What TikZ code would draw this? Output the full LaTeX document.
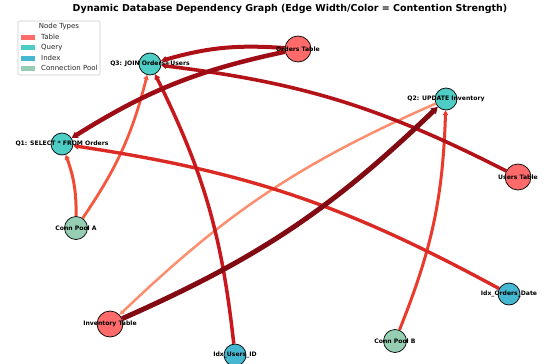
\documentclass[tikz,border=0pt]{standalone}
\usepackage{fontspec}
\setmainfont{DejaVu Sans}
\usetikzlibrary{arrows.meta}
\definecolor{ctable}{HTML}{FF6B6B}
\definecolor{cquery}{HTML}{4ECDC4}
\definecolor{cindex}{HTML}{45B7D1}
\definecolor{cpool}{HTML}{96CEB4}
\definecolor{eA}{HTML}{820A13}
\definecolor{eB}{HTML}{9E0D16}
\definecolor{eC}{HTML}{AD1117}
\definecolor{eD}{HTML}{B31218}
\definecolor{eE}{HTML}{C8171D}
\definecolor{eF}{HTML}{DB2924}
\definecolor{eG}{HTML}{E93A2C}
\definecolor{eH}{HTML}{F14A34}
\definecolor{eI}{HTML}{F6583F}
\definecolor{eJ}{HTML}{FC8E6E}
\tikzset{
  gnode/.style={circle,draw=black,line width=0.7pt,inner sep=0pt,minimum size=#1},
  tnode/.style={gnode=26pt,fill=ctable},
  qnode/.style={gnode=22pt,fill=cquery},
  inode/.style={gnode=22pt,fill=cindex},
  pnode/.style={gnode=23pt,fill=cpool},
  lbl/.style={font=\fontsize{6.1}{7}\selectfont\bfseries,text=black,inner sep=0pt},
  edge/.style={draw=#1,line cap=butt,-{Triangle[length=2pt 0.9,width=2pt 1.1]}},
  legpatch/.style={minimum width=14pt,minimum height=5pt,inner sep=0pt},
  legtext/.style={font=\fontsize{7}{8}\selectfont,text=black!85,anchor=west,inner sep=0pt},
}
\begin{document}
\begin{tikzpicture}[x=1pt,y=-1pt]
\useasboundingbox (0,0) rectangle (549,364);
% nodes
\node[tnode] (orders) at (298,49) {};
\node[qnode] (q3) at (150,64) {};
\node[qnode] (q2) at (446,99) {};
\node[qnode] (q1) at (62,144) {};
\node[tnode] (users) at (518,177) {};
\node[pnode] (cpa) at (76,228) {};
\node[inode] (ido) at (509,294) {};
\node[tnode] (inv) at (110,324) {};
\node[pnode] (cpb) at (395,341) {};
\node[inode] (idu) at (235,355) {};
% edges
\draw[edge=eJ,line width=2.5pt] (q2) to[bend right=10] (inv);
\draw[edge=eI,line width=2.8pt] (cpa) to[bend right=10] (q3);
\draw[edge=eH,line width=3pt] (cpa) to[bend right=10] (q1);
\draw[edge=eG,line width=3pt] (cpb) to[bend right=10] (q2);
\draw[edge=eF,line width=3.4pt] (ido) to[bend right=10] (q1);
\draw[edge=eE,line width=3.5pt] (idu) to[bend right=10] (q3);
\draw[edge=eD,line width=3.6pt] (users) to[bend right=10] (q3);
\draw[edge=eC,line width=4pt] (orders) to[bend right=10] (q3);
\draw[edge=eB,line width=4.5pt] (orders) to[bend right=10] (q1);
\draw[edge=eA,line width=5pt] (inv) to[bend right=10] (q2);
% labels
\node[lbl] (lorders) at (orders) {Orders Table};
\node[lbl] (lq3) at (q3) {Q3: JOIN Orders+Users};
\node[lbl] (lq2) at (q2) {Q2: UPDATE Inventory};
\node[lbl] (lq1) at (q1) {Q1: SELECT * FROM Orders};
\node[lbl] (lusers) at (users) {Users Table};
\node[lbl] (lcpa) at (cpa) {Conn Pool A};
\node[lbl] (lido) at (ido) {Idx\_Orders\_Date};
\node[lbl] (linv) at (inv) {Inventory Table};
\node[lbl] (lcpb) at (cpb) {Conn Pool B};
\node[lbl] (lidu) at (idu) {Idx\_Users\_ID};
% title
\node[font=\fontsize{9.5}{10}\selectfont\bfseries,inner sep=0pt] (title) at (290,9) {Dynamic Database Dependency Graph (Edge Width/Color = Contention Strength)};
% legend
\draw[draw=black!20,fill=white,line width=0.6pt,rounded corners=2pt] (18,21) rectangle (100,75);
\node[font=\fontsize{7}{8}\selectfont,text=black!85,inner sep=0pt] (legtitle) at (59,27) {Node Types};
\node[legpatch,fill=ctable] (p1) at (28,37) {};
\node[legpatch,fill=cquery] (p2) at (28,47.3) {};
\node[legpatch,fill=cindex] (p3) at (28,58) {};
\node[legpatch,fill=cpool] (p4) at (28,68.3) {};
\node[legtext] (t1) at (41,37) {Table};
\node[legtext] (t2) at (41,47.3) {Query};
\node[legtext] (t3) at (41,58) {Index};
\node[legtext] (t4) at (41,68.3) {Connection Pool};
\end{tikzpicture}
\end{document}
